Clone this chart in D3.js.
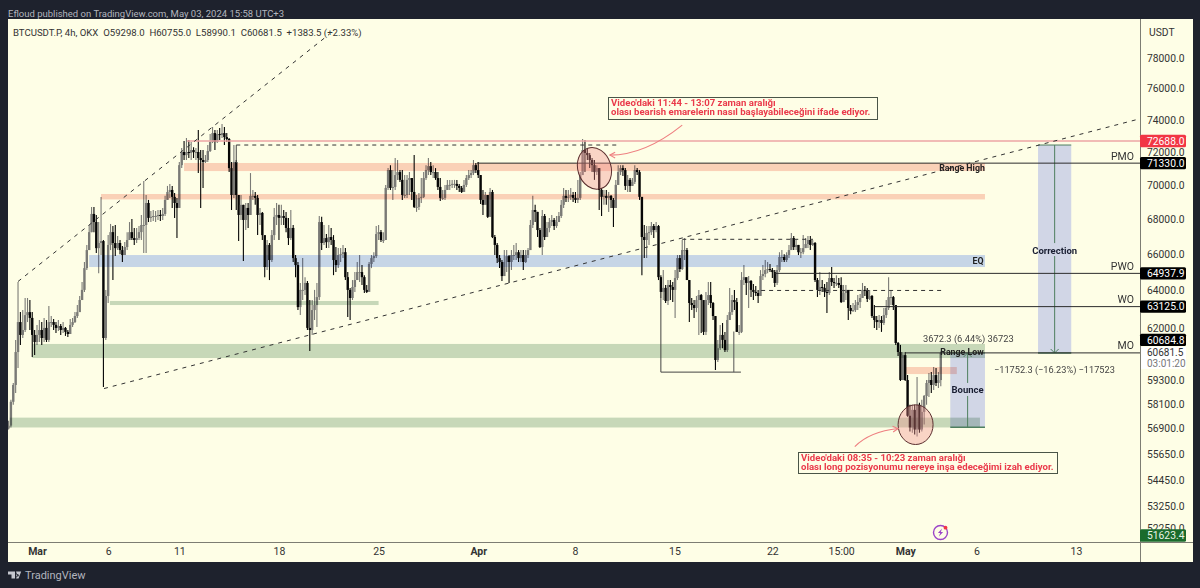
<!DOCTYPE html>
<html><head><meta charset="utf-8">
<script src="https://cdn.jsdelivr.net/npm/d3@7"></script>
<style>
html,body{margin:0;padding:0;background:#1e222d;}
svg{display:block;}
text{font-family:Roboto,"Noto Sans",sans-serif;}
</style></head><body><div id="c"></div>
<script>
// 4h candles, thousand USDT, one row per day; each open is the previous close
const firstOpen = 56.90;
const closes = [
57.04,58.21,59.05,60.73,62.30,61.62,
61.88,62.67,62.83,62.52,61.62,61.25,
61.62,61.88,61.46,61.99,61.36,62.30,
62.30,62.15,61.99,62.09,61.88,61.99,
61.78,61.67,62.15,62.30,62.62,62.83,
63.48,64.03,65.23,66.24,67.26,68.31,
67.84,66.35,66.64,66.75,61.46,63.70,
66.53,67.26,66.64,66.35,66.64,66.24,
65.96,66.41,66.81,67.26,66.92,66.81,
66.92,67.26,67.67,67.67,68.95,68.08,
68.14,68.19,68.19,68.25,68.19,68.31,
69.13,69.60,69.72,69.31,68.95,68.66,
71.21,72.01,71.82,72.01,71.95,72.13,
72.01,72.01,71.64,71.52,71.40,71.52,
72.07,72.63,73.18,72.63,73.12,73.06,
73.18,72.93,72.81,71.03,69.42,71.40,
69.42,68.25,68.84,67.96,68.66,68.25,
69.37,69.37,69.25,68.25,68.37,67.09,
65.29,66.53,65.68,67.09,68.14,68.25,
68.08,68.19,68.08,67.50,66.92,67.50,
65.79,65.40,63.10,64.03,64.03,64.41,
61.99,61.88,62.94,63.21,63.64,67.84,
66.64,66.92,66.69,66.98,66.81,65.68,
65.40,65.96,66.01,66.12,64.73,64.03,
63.59,64.19,64.57,65.01,65.01,64.73,
64.03,63.92,65.46,65.79,65.90,67.15,
67.26,66.81,66.81,69.84,70.91,69.84,
69.90,70.61,70.79,70.32,69.42,69.42,
70.32,70.43,69.60,68.72,68.72,69.25,
69.31,70.43,70.91,71.15,70.79,70.79,
70.43,69.90,69.25,69.25,69.72,70.02,
70.02,70.08,70.08,69.96,69.84,69.60,
70.02,70.43,70.61,70.73,71.21,70.91,
70.61,69.13,68.84,69.42,68.14,69.60,
66.98,66.53,65.79,65.57,64.79,65.57,
65.90,65.57,65.96,65.96,66.12,65.79,
65.96,65.57,65.96,66.24,67.67,68.54,
68.43,67.38,66.41,68.19,66.98,
67.50,67.84,67.96,67.61,67.84,68.19,
68.84,69.37,69.25,69.31,69.42,69.25,
69.13,69.25,70.61,72.13,71.95,71.82,
71.52,71.21,70.79,71.03,69.72,69.31,
69.37,69.25,69.37,69.13,68.66,70.02,
70.79,71.03,70.91,69.96,70.32,69.96,
70.20,70.91,70.79,69.31,66.98,66.81,
67.21,67.26,67.61,67.38,67.61,64.73,
63.92,64.14,63.43,64.30,64.19,64.03,
64.68,65.79,65.18,66.24,66.24,64.57,
63.32,63.21,63.05,63.48,63.75,63.48,
61.78,63.48,63.75,63.32,62.62,
60.32,
60.93,61.62,61.36,60.83,62.41,62.83,
63.48,63.37,61.78,61.78,64.57,64.73,
64.41,64.52,64.03,63.92,63.86,63.70,
64.79,64.90,65.12,65.18,65.12,65.01,
64.41,65.12,65.85,65.85,65.68,65.96,
66.24,66.92,66.41,66.53,66.12,66.12,66.35,
66.58,66.81,66.53,66.64,64.57,
64.03,64.19,64.14,63.92,63.86,64.68,
64.46,64.41,64.41,64.30,63.37,63.86,
64.03,63.05,62.89,62.94,63.21,63.37,
63.59,64.03,63.97,63.54,63.70,
62.62,62.41,62.30,62.41,62.25,62.67,
63.05,63.64,63.64,63.21,61.20,60.73,
59.30,60.57,59.30,57.52,56.95,57.81,
56.85,58.06,56.85,57.71,58.50,59.15,
59.30,59.05,59.55,59.15,59.298,60.6815];
const highs = [
57.28,58.31,59.15,61.36,64.46,62.83,
62.94,63.59,63.59,63.48,62.83,61.88,
62.15,62.41,62.30,62.52,62.41,63.16,
62.62,62.46,62.30,62.41,62.20,62.30,
62.04,61.88,62.46,62.52,62.83,63.21,
63.70,64.46,65.57,66.53,67.67,68.72,
68.72,68.25,67.84,69.31,66.81,64.03,
67.09,67.73,67.61,67.67,67.04,66.81,
66.47,66.69,67.26,67.84,68.02,67.50,
67.50,67.61,68.25,70.26,69.42,69.13,
68.48,68.54,68.48,68.54,68.54,68.66,
69.37,69.96,70.08,69.96,69.54,69.25,
71.40,72.25,72.69,72.87,72.75,72.63,
72.31,72.25,73.37,72.13,72.13,71.82,
72.44,73.12,73.56,73.37,73.37,73.50,
73.75,73.56,73.18,72.87,71.40,72.44,
71.52,69.42,69.42,68.84,68.95,68.95,
70.73,69.72,69.60,69.42,68.66,68.43,
66.81,66.81,66.64,67.38,68.66,68.95,
68.84,68.84,68.54,68.43,68.08,68.54,
67.67,65.96,65.57,64.41,65.79,64.73,
64.52,63.48,63.48,64.03,64.41,68.19,
68.14,67.67,67.15,67.67,67.50,67.09,
66.41,66.35,66.35,66.53,66.35,65.01,
64.14,64.57,65.01,65.57,65.96,65.40,
64.84,64.30,65.57,65.96,66.12,67.61,
67.67,67.38,67.26,70.02,71.03,71.21,
70.91,71.64,71.52,70.91,70.91,70.61,
70.61,70.79,70.43,71.82,69.42,69.54,
70.43,70.79,71.21,71.64,71.40,71.21,
71.03,70.79,70.43,69.72,70.02,70.32,
70.32,70.32,70.32,70.32,70.08,69.96,
70.32,70.61,70.91,70.91,71.52,71.34,
71.40,70.61,69.72,69.60,69.42,69.84,
69.72,67.09,66.64,65.96,65.68,66.24,
66.24,65.96,66.24,66.53,66.64,66.24,
66.24,66.24,66.24,66.35,67.96,69.37,
68.84,68.43,67.50,68.54,68.31,
67.84,68.08,68.25,68.08,68.19,68.43,
69.13,69.84,69.72,69.72,69.84,69.60,
69.60,70.32,70.79,72.81,72.75,72.25,
71.95,71.64,71.52,71.21,71.03,69.84,
69.72,69.72,69.60,69.42,69.25,70.32,
71.21,71.21,71.21,71.03,70.61,70.43,
70.43,71.21,71.03,70.91,69.31,67.67,
67.61,67.61,67.84,67.73,67.84,67.67,
64.84,65.12,64.30,64.57,64.57,64.46,
65.12,65.96,65.96,66.81,66.92,66.35,
64.57,63.59,63.48,63.70,64.03,63.81,
63.21,63.92,64.46,64.46,63.37,
62.62,
61.36,62.15,62.25,61.78,62.67,64.14,
63.75,64.03,63.59,62.15,65.01,65.40,
64.68,64.79,64.57,64.35,64.25,64.03,
65.12,65.40,65.68,65.57,65.46,65.23,
65.12,65.40,66.12,66.24,66.01,66.12,
66.53,67.21,67.04,66.81,66.53,66.35,67.09,
66.92,67.04,67.04,66.81,66.69,
64.68,65.01,64.57,64.35,64.46,65.01,
65.29,64.68,64.84,64.68,64.73,64.30,
64.30,64.03,63.21,63.32,63.48,63.75,
63.81,64.41,64.25,64.14,64.03,
63.75,63.21,62.62,62.67,62.62,63.05,
63.48,64.73,64.03,63.70,63.21,61.25,
61.10,60.73,60.73,59.55,58.06,58.06,
58.06,59.45,58.16,58.31,58.55,59.30,
59.66,59.71,59.96,59.91,59.71,60.755];
const lows = [
56.85,56.95,58.06,58.65,59.91,61.10,
61.46,61.78,62.30,61.88,60.47,60.57,
61.10,61.25,61.10,61.25,61.25,61.25,
62.04,61.88,61.72,61.83,61.62,61.72,
61.57,61.51,61.67,62.04,62.25,62.52,
62.83,63.48,63.92,65.12,66.24,67.26,
67.26,66.07,64.95,65.96,58.95,61.36,
63.32,66.24,64.57,65.90,66.24,66.01,
65.57,66.12,66.24,66.81,66.81,66.53,
66.64,66.81,66.81,66.07,66.07,67.84,
67.84,67.90,67.84,67.96,67.90,67.96,
68.19,69.13,69.25,68.66,68.08,66.92,
68.66,71.03,71.52,71.52,71.64,71.52,
71.64,71.52,70.73,68.66,69.84,71.34,
71.40,72.01,72.56,72.13,72.56,72.75,
72.87,72.44,72.63,70.79,68.54,69.25,
68.54,66.75,67.96,65.62,67.38,67.50,
68.25,69.13,68.84,67.09,67.67,66.81,
64.73,65.12,64.57,65.57,66.81,67.67,
66.81,67.67,67.67,67.26,66.53,66.81,
65.57,64.73,62.94,62.67,63.48,63.75,
61.88,60.78,61.62,62.41,62.04,63.48,
66.24,66.53,66.35,66.35,66.53,64.84,
65.01,65.23,65.57,65.79,64.57,62.57,
62.41,63.48,63.92,64.57,64.46,64.30,
63.86,63.86,64.03,65.23,65.57,65.79,
66.81,66.69,66.64,66.81,69.72,69.72,
69.13,69.72,70.32,70.20,69.13,69.25,
69.25,69.42,69.13,68.66,68.43,68.54,
68.95,69.25,70.32,70.61,70.61,70.43,
70.32,69.72,69.07,69.13,69.13,69.72,
69.72,69.84,69.84,69.72,69.60,69.54,
69.60,69.90,70.32,70.43,70.61,70.73,
70.43,68.89,68.25,68.95,68.08,68.14,
66.92,65.96,65.51,65.23,64.52,64.84,
65.01,64.41,65.12,65.68,65.68,65.57,
65.57,65.12,65.51,65.79,66.24,67.50,
67.84,66.98,66.35,65.96,66.81,
67.26,67.26,67.61,67.38,67.50,67.84,
68.08,68.66,69.01,69.01,69.13,69.01,
68.95,68.95,69.13,70.61,70.79,71.52,
71.03,70.79,70.32,70.61,68.54,68.19,
68.84,68.84,68.43,68.66,67.56,68.66,
70.02,70.61,70.55,69.72,69.60,69.60,
69.96,70.08,70.61,69.13,64.84,65.79,
65.79,66.53,67.09,66.92,67.26,64.57,
63.59,63.48,63.32,63.21,63.48,63.37,
62.52,64.57,65.01,65.12,65.68,64.57,
62.30,62.94,62.52,62.83,61.62,61.72,
61.62,61.62,63.21,63.05,62.41,
59.81,
60.22,60.83,60.93,60.73,60.73,62.41,
62.67,62.94,61.78,61.62,61.72,64.30,
63.75,63.05,63.64,63.48,63.70,63.32,
63.75,64.57,64.73,64.95,65.01,64.68,
64.19,64.30,65.01,65.57,65.57,65.57,
65.79,66.35,66.24,66.24,65.96,65.79,66.01,
66.35,66.35,66.24,66.47,64.46,
63.64,63.75,63.92,63.64,62.78,63.75,
64.25,64.14,64.25,64.14,63.32,63.37,
63.48,62.41,62.72,62.83,62.83,62.94,
63.05,63.59,63.70,63.37,63.48,
62.52,61.99,61.88,61.99,61.78,62.15,
62.52,62.94,63.21,62.94,61.10,60.52,
59.25,59.30,59.25,57.47,56.75,56.70,
56.61,56.51,56.70,56.75,57.09,58.06,
58.45,58.65,58.80,59.00,58.90,58.990];

const lastBar = "2024-05-03T12:00Z";
const timeTickDates = ["2024-03-01","2024-03-06","2024-03-11","2024-03-18","2024-03-25","2024-04-01","2024-04-07T19:00","2024-04-14T19:00","2024-04-21T16:00","2024-04-26T12:00","2024-05-01","2024-05-06","2024-05-13"];
const timeTickLabels = ["Mar","6","11","18","25","Apr","8","15","22","15:00","May","6","13"];
const timeTickBold = ["Mar","Apr","May"];
const priceTicks = [78000,76000,74000,72000,70000,68000,66000,64000,62000,59300,58100,56900,55650,54450,53250,52250];

// zones: start, end, low, high, kind
const zoneStart = ["2024-03-11T08:00","2024-03-05T12:00","2024-03-04T16:00","2024-03-06T03:00","2024-02-29T16:00","2024-02-28T02:00","2024-05-01T00:00"];
const zoneEnd   = ["2024-05-06T14:30","2024-05-06T14:30","2024-05-06T14:30","2024-03-25T00:00","2024-05-06T14:30","2024-05-06T06:00","2024-05-04T15:00"];
const zoneLow   = [70850,69160,65290,63210,60420,56950,59600];
const zoneHigh  = [71340,69480,65960,63430,61150,57430,59960];
const zoneKind  = ["pink","pink","blue","green","green","green","pink"];

// level lines: solid ones end at the price axis
const levelPrice = [72688,71330,64937.9,63125,60684.8];
const levelStart = ["2024-03-11T13:00","2024-03-31T22:00","2024-04-21T20:00","2024-04-28T21:00","2024-05-01T01:00"];
const levelKind  = ["red","dark","dark","dark","dark"];
const levelNames = ["","PMO","PWO","WO","MO"];
const dashedPrice = [72440,66850,64000];
const dashedStart = ["2024-03-15T00:00","2024-04-15T08:00","2024-04-20T21:00"];
const dashedEnd   = ["2024-04-10T20:00","2024-04-24T12:30","2024-05-03T14:00"];
const trendFrom = [["2024-02-28T16:00",64490],["2024-03-05T17:00",58870]];
const trendTo   = [["2024-03-21T12:30",79600],["2024-05-17T12:00",74080]];
const rangeDates = ["2024-04-13T20:00","2024-04-19T11:00"];
const rangePrice = 59700;

const boxes = [
 {name:"Correction",from:"2024-05-10T08:00",to:"2024-05-12T16:00",low:60680,high:72440,labelPrice:66240},
 {name:"Bounce",from:"2024-05-04T04:00",to:"2024-05-06T14:30",low:56960,high:60680,labelPrice:58800}];
const ellipses = [
 {from:"2024-04-08T00:00",to:"2024-04-10T08:00",low:69740,high:72310,rot:-18},
 {from:"2024-04-30T12:00",to:"2024-05-02T23:00",low:56130,high:58060,rot:0}];
const arrows = [
 {a:["2024-04-15T08:00",73680],c:["2024-04-12T17:00",71820],b:["2024-04-10T06:00",71820]},
 {a:["2024-04-27T11:00",56030],c:["2024-04-28T12:00",56750],b:["2024-04-30T12:00",56900]}];
const flagPrices = [[72688,"72688.0","#f23645"],[71330,"71330.0","#000"],[64937.9,"64937.9","#000"],[63125,"63125.0","#000"]];

const W=1200,H=588,L=8,T=19,R=1193,B=562,AX=1140,AY=542;
const cream="#fefee6";
const parse=s=>new Date(/Z$/.test(s)?s:(s.length<=10?s+"T00:00Z":s+"Z"));
const x=d3.scaleUtc().domain([parse("2024-03-01"),parse("2024-05-13")]).range([37,1076]);
const y=d3.scaleLog().domain([52250,78000]).range([528.6,58.2]);
const X=s=>x(parse(s));

const svg=d3.select("#c").append("svg").attr("width",W).attr("height",H);
svg.append("rect").attr("width",W).attr("height",H).attr("fill","#1e222d");
svg.append("rect").attr("x",L).attr("y",T).attr("width",R-L).attr("height",B-T).attr("fill",cream);
svg.append("defs").append("clipPath").attr("id","plot").append("rect").attr("x",L).attr("y",T).attr("width",AX-L).attr("height",AY-T);
const g=svg.append("g").attr("clip-path","url(#plot)");
g.append("rect").attr("x",L).attr("y",T).attr("width",AX-L).attr("height",AY-T).attr("fill",cream);

// candles
const end=+parse(lastBar),step=4*3600e3,n=closes.length;
const candles=closes.map((c,i)=>({t:new Date(end-(n-1-i)*step),o:(i?closes[i-1]:firstOpen)*1000,c:c*1000,h:highs[i]*1000,l:lows[i]*1000}));
const col=d=>d.c>=d.o?"#7a7a76":"#060606";
const cg=g.append("g");
cg.selectAll("line").data(candles).join("line")
 .attr("x1",d=>x(d.t)).attr("x2",d=>x(d.t)).attr("y1",d=>y(d.h)).attr("y2",d=>y(d.l))
 .attr("stroke",col).attr("stroke-width",1.1);
cg.selectAll("rect").data(candles).join("rect")
 .attr("x",d=>x(d.t)-1.2).attr("width",2.4)
 .attr("y",d=>y(Math.max(d.o,d.c))).attr("height",d=>Math.max(1,Math.abs(y(d.o)-y(d.c))))
 .attr("fill",col);

// zones multiply over candles and the cream plot
const zoneFill={pink:"#fbd2cb",blue:"#c7d6ff",green:"#c8d9cc"};
const zg=g.append("g");
zg.selectAll("rect").data(zoneStart).join("rect")
 .attr("x",(d,i)=>X(zoneStart[i])).attr("width",(d,i)=>X(zoneEnd[i])-X(zoneStart[i]))
 .attr("y",(d,i)=>y(zoneHigh[i])).attr("height",(d,i)=>y(zoneLow[i])-y(zoneHigh[i]))
 .attr("fill",(d,i)=>zoneFill[zoneKind[i]]).style("mix-blend-mode","multiply");

// ranged boxes
boxes.forEach(b=>{
 const x0=X(b.from),x1=X(b.to),y0=y(b.high),y1=y(b.low),xm=(x0+x1)/2;
 const bg=g.append("g");
 g.append("rect").attr("x",x0).attr("y",y0).attr("width",x1-x0).attr("height",y1-y0).attr("fill","#d2d7ff").style("mix-blend-mode","multiply").lower().raise();
 const top=g.append("g");
 top.append("line").attr("x1",x0).attr("x2",x1).attr("y1",y0).attr("y2",y0).attr("stroke","#4f7f5f").attr("stroke-width",1);
 top.append("line").attr("x1",x0).attr("x2",x1).attr("y1",y1).attr("y2",y1).attr("stroke","#4f7f5f").attr("stroke-width",1.5);
 top.append("line").attr("x1",xm).attr("x2",xm).attr("y1",y0).attr("y2",y1).attr("stroke","#4f7f5f").attr("stroke-width",1);
 const down=b.name==="Correction",ya=down?y1:y0,s=down?-1:1;
 top.append("path").attr("d",`M${xm-4},${ya+s*4}L${xm},${ya}L${xm+4},${ya+s*4}`).attr("fill","none").attr("stroke","#4f7f5f");
 const ly=y(b.labelPrice);
 top.append("rect").attr("x",x0+1).attr("y",ly-7).attr("width",x1-x0-2).attr("height",13).attr("fill","#d1d6e6");
 top.append("text").attr("x",xm).attr("y",ly+3.5).attr("text-anchor","middle").attr("font-size",9.5).attr("font-weight",700).attr("fill","#1a1f33").text(b.name);
});

// levels
g.selectAll(".lvl").data(levelPrice).join("line").attr("class","lvl")
 .attr("x1",(d,i)=>X(levelStart[i])).attr("x2",AX).attr("y1",d=>y(d)).attr("y2",d=>y(d))
 .attr("stroke",(d,i)=>levelKind[i]==="red"?"#eda5a5":"#2c2c2c").attr("stroke-width",(d,i)=>levelKind[i]==="red"?1.6:1);
g.selectAll(".dsh").data(dashedPrice).join("line").attr("class","dsh")
 .attr("x1",(d,i)=>X(dashedStart[i])).attr("x2",(d,i)=>X(dashedEnd[i])).attr("y1",d=>y(d)).attr("y2",d=>y(d))
 .attr("stroke","#333").attr("stroke-dasharray","4 4");
g.append("line").attr("x1",X(dashedStart[0])).attr("x2",X(dashedStart[0])).attr("y1",y(dashedPrice[0])).attr("y2",y(71340)).attr("stroke","#444");
g.selectAll(".trd").data(trendFrom).join("line").attr("class","trd")
 .attr("x1",d=>X(d[0])).attr("y1",d=>y(d[1])).attr("x2",(d,i)=>X(trendTo[i][0])).attr("y2",(d,i)=>y(trendTo[i][1]))
 .attr("stroke","#333").attr("stroke-width",1).attr("stroke-dasharray","4 5");
const rx0=X(rangeDates[0]),rx1=X(rangeDates[1]);
g.append("line").attr("x1",rx0).attr("x2",rx1).attr("y1",y(rangePrice)).attr("y2",y(rangePrice)).attr("stroke","#444").attr("stroke-width",1);
g.append("line").attr("x1",rx0).attr("x2",rx0).attr("y1",y(63600)).attr("y2",y(rangePrice)).attr("stroke","#444");
g.append("line").attr("x1",X("2024-04-18T23:00")).attr("x2",X("2024-04-18T23:00")).attr("y1",y(61800)).attr("y2",y(rangePrice)).attr("stroke","#555");

// ellipses and arrows
ellipses.forEach(e=>{
 const x0=X(e.from),x1=X(e.to),y0=y(e.high),y1=y(e.low),cx=(x0+x1)/2,cy=(y0+y1)/2;
 g.append("ellipse").attr("cx",cx).attr("cy",cy).attr("rx",(x1-x0)/2).attr("ry",(y1-y0)/2)
  .attr("transform",`rotate(${e.rot} ${cx} ${cy})`).attr("fill","#f08a8a").attr("fill-opacity",.36).attr("stroke","#5b2f2f").attr("stroke-width",1);
});
arrows.forEach(a=>{
 const [ax,ay]=[X(a.a[0]),y(a.a[1])],[cx,cy]=[X(a.c[0]),y(a.c[1])],[bx,by]=[X(a.b[0]),y(a.b[1])];
 g.append("path").attr("d",`M${ax},${ay}Q${cx},${cy} ${bx},${by}`).attr("fill","none").attr("stroke","#ee7f80").attr("stroke-width",1.1);
 const ang=Math.atan2(by-cy,bx-cx);
 const hd=t=>`${bx-6*Math.cos(ang+t)},${by-6*Math.sin(ang+t)}`;
 g.append("path").attr("d",`M${hd(.5)}L${bx},${by}L${hd(-.5)}`).attr("fill","none").attr("stroke","#ee7f80").attr("stroke-width",1.1);
});

// text labels on plot
const label=(t,px,py,o={})=>g.append("text").attr("x",px).attr("y",py).attr("text-anchor",o.a||"start")
 .attr("font-size",o.s||9).attr("font-weight",o.w||400).attr("fill",o.c||"#444").text(t);
label("Range High",962,171,{a:"middle",w:700,s:8.8,c:"#222"});
label("Range Low",962,355,{a:"middle",w:700,s:8.8,c:"#222"});
label("EQ",978,264,{a:"middle",w:700,s:8.8,c:"#222"});
label("3672.3 (6.44%) 36723",923,341.5,{s:9.3,c:"#444"});
label("\u221211752.3 (\u221216.23%) \u2212117523",994,372.5,{s:9.2,c:"#444"});
levelNames.forEach((nm,i)=>{ if(!nm)return; label(nm,1134,y(levelPrice[i])-3.5,{a:"end",s:10.5,c:"#333"}); });

// callouts
const notes=[{x:608,y:97,w:269,h:22,l:["Video'daki 11:44 - 13:07 zaman aralığı","olası bearish emarelerin nasıl başlayabileceğini ifade ediyor."]},
 {x:798,y:452,w:259,h:21,l:["Video'daki 08:35 - 10:23 zaman aralığı","olası long pozisyonumu nereye inşa edeceğimi izah ediyor."]}];
notes.forEach(d=>{
 g.append("rect").attr("x",d.x+.5).attr("y",d.y+.5).attr("width",d.w).attr("height",d.h).attr("fill",cream).attr("stroke","#4a5548");
 d.l.forEach((t,i)=>g.append("text").attr("x",d.x+3).attr("y",d.y+9+i*9).attr("font-size",9.6).attr("font-weight",700).attr("fill","#ea3a4b").text(t));
});

// axes
svg.append("line").attr("x1",AX+.5).attr("x2",AX+.5).attr("y1",T).attr("y2",B).attr("stroke","#7d7d73");
svg.append("line").attr("x1",L).attr("x2",R).attr("y1",AY+.5).attr("y2",AY+.5).attr("stroke","#7d7d73");
const ya=svg.append("g").attr("transform",`translate(${AX+7},0)`).call(d3.axisRight(y).tickValues(priceTicks).tickSize(0).tickPadding(0).tickFormat(d=>d.toFixed(1)));
ya.select(".domain").remove();
ya.selectAll("text").attr("font-size",10.3).attr("font-family","Roboto,sans-serif").attr("fill","#333");
const xa=svg.append("g").attr("transform",`translate(0,${AY})`).call(d3.axisBottom(x).tickValues(timeTickDates.map(parse)).tickSize(0).tickPadding(6).tickFormat((d,i)=>timeTickLabels[i]));
xa.select(".domain").remove();
xa.selectAll("text").attr("font-size",10.5).attr("font-family","Roboto,sans-serif").attr("fill","#333")
 .attr("font-weight",(d,i)=>timeTickBold.includes(timeTickLabels[i])?700:400);

// price flags
const flag=(p,t,c,fg="#fff")=>{
 svg.append("rect").attr("x",AX).attr("y",p-6.2).attr("width",46).attr("height",12.4).attr("rx",1.5).attr("fill",c);
 svg.append("text").attr("x",AX+7).attr("y",p+3.7).attr("font-size",10.3).attr("fill",fg).text(t);};
flagPrices.forEach(f=>flag(y(f[0]),f[1],f[2]));
flag(y(61360),"60684.8","#000");
svg.append("rect").attr("x",AX+1).attr("y",y(60684.8)-6).attr("width",45).attr("height",22).attr("fill","#fff");
svg.append("text").attr("x",AX+7).attr("y",y(60684.8)+3.2).attr("font-size",10).attr("fill","#333").text("60681.5");
svg.append("text").attr("x",AX+7).attr("y",y(60684.8)+14).attr("font-size",10).attr("fill","#777").text("03:01:20");
flag(535.5,"51623.4","#1a6b2c","#e8f3e4");
svg.append("text").attr("x",1149).attr("y",36).attr("font-size",10.3).attr("fill","#333").text("USDT");

// header and footer
svg.append("text").attr("x",8).attr("y",17).attr("font-size",9.5).attr("fill","#b2b5be").text("Efloud published on TradingView.com, May 03, 2024 15:58 UTC+3");
svg.append("text").attr("x",13).attr("y",36).attr("font-size",9.6).attr("fill","#333").attr("xml:space","preserve").text("BTCUSDT.P, 4h, OKX  O59298.0  H60755.0  L58990.1  C60681.5  +1383.5 (+2.33%)");
svg.append("path").attr("d","M8,571.5h7v7h-3.5v-4h-3.5zM17.5,574a1.3,1.3 0 1,0 .01,0zM16,571.5h5.2l-2.7,7h-2.4l1.2,-3.2z").attr("fill","#c6c8cf");
svg.append("text").attr("x",25).attr("y",579).attr("font-size",11).attr("fill","#b2b5be").text("TradingView");

// lightning badge
const bd=svg.append("g").attr("transform","translate(940.5,532.5)");
bd.append("circle").attr("r",7).attr("fill",cream).attr("stroke","#9b45c8").attr("stroke-width",1.4);
bd.append("path").attr("d","M1.6,-4L-2.6,.6H-.3L-1.6,4L2.6,-.6H.3Z").attr("fill","#9b45c8");
bd.append("circle").attr("cx",5).attr("cy",-4.8).attr("r",1.9).attr("fill","#f23645");
</script></body></html>
